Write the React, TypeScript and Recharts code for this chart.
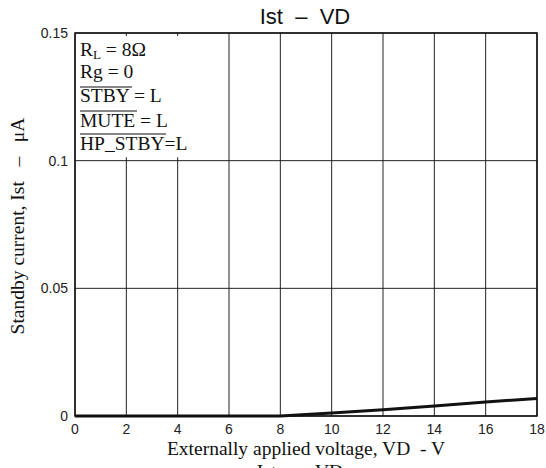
import { LineChart, Line, XAxis, YAxis, CartesianGrid, ReferenceArea } from 'recharts';

// VD (V) vs standby current (uA)
const voltage = [0, 2, 4, 6, 8, 10, 12, 14, 16, 18];
const current = [0, 0, 0, 0, 0, 0.0012, 0.0024, 0.0039, 0.0055, 0.0069];
const xTicks = [0, 2, 4, 6, 8, 10, 12, 14, 16, 18];
const yTicks = [0, 0.05, 0.1, 0.15];
const conditions = ['RL = 8Ω', 'Rg = 0', 'STBY = L', 'MUTE = L', 'HP_STBY=L'];

const data = voltage.map((v, i) => ({ vd: v, ist: current[i] }));

const sans = 'Liberation Sans, Arial, sans-serif';
const serif = 'Liberation Serif, Times New Roman, serif';

if (typeof document !== 'undefined') {
  document.body.style.margin = '0';
  document.body.style.overflow = 'hidden';
}

const App = () => {
  return (
    <div style={{ position: 'relative', width: 546, height: 468, background: '#fff', overflow: 'hidden' }}>
      <LineChart width={546} height={468} data={data} margin={{ top: 33, right: 9, bottom: 32, left: 0 }}>
        <CartesianGrid stroke="#222" strokeWidth={1} horizontal vertical />
        <XAxis
          dataKey="vd"
          type="number"
          domain={[0, 18]}
          ticks={xTicks}
          interval={0}
          height={20}
          tickLine={false}
          axisLine={false}
          tick={{ fontFamily: sans, fontSize: 14, fill: '#222' }}
          tickMargin={2}
        />
        <YAxis
          type="number"
          domain={[0, 0.15]}
          ticks={yTicks}
          interval={0}
          width={75}
          tickLine={false}
          axisLine={false}
          tick={{ fontFamily: sans, fontSize: 14, fill: '#222' }}
          tickMargin={1}
        />
        <ReferenceArea x1={0.05} x2={5.9} y1={0.1013} y2={0.1488} fill="#fff" fillOpacity={1} stroke="none" ifOverflow="visible" />
        <Line dataKey="ist" stroke="#111" strokeWidth={3} dot={false} isAnimationActive={false} />
      </LineChart>
      <svg width={546} height={468} style={{ position: 'absolute', left: 0, top: 0, pointerEvents: 'none' }}>
        <rect x={75} y={33} width={462} height={383} fill="none" stroke="#111" strokeWidth={1.5} />
        <text x={305} y={24} textAnchor="middle" fontFamily={sans} fontSize={22} fill="#111" style={{ whiteSpace: 'pre' }}>Ist  –  VD</text>
        <g fontFamily={serif} fontSize={19.5} fill="#111">
          <text x={80} y={56}>R<tspan fontSize={13} dy={3}>L</tspan><tspan dy={-3}> = 8Ω</tspan></text>
          <text x={80} y={78}>{conditions[1]}</text>
          <text x={80} y={102}>{conditions[2]}</text>
          <line x1={80} y1={87} x2={132} y2={87} stroke="#111" strokeWidth={1} />
          <text x={80} y={127}>{conditions[3]}</text>
          <line x1={80} y1={111} x2={137} y2={111} stroke="#111" strokeWidth={1} />
          <text x={80} y={150}>{conditions[4]}</text>
          <line x1={80} y1={134} x2={166} y2={134} stroke="#111" strokeWidth={1} />
        </g>
        <text x={306} y={455} textAnchor="middle" fontFamily={serif} fontSize={19.5} fill="#111" style={{ whiteSpace: 'pre' }}>Externally applied voltage, VD  - V</text>
        <text x={24} y={226} textAnchor="middle" fontFamily={serif} fontSize={19.5} fill="#111" style={{ whiteSpace: 'pre' }} transform="rotate(-90 24 226)">Standby current, Ist   –   μA</text>
        <text x={300} y={478} textAnchor="middle" fontFamily={serif} fontSize={19.5} fill="#111" style={{ whiteSpace: 'pre' }}>Ist   –   VD</text>
      </svg>
    </div>
  );
};

export default App;
